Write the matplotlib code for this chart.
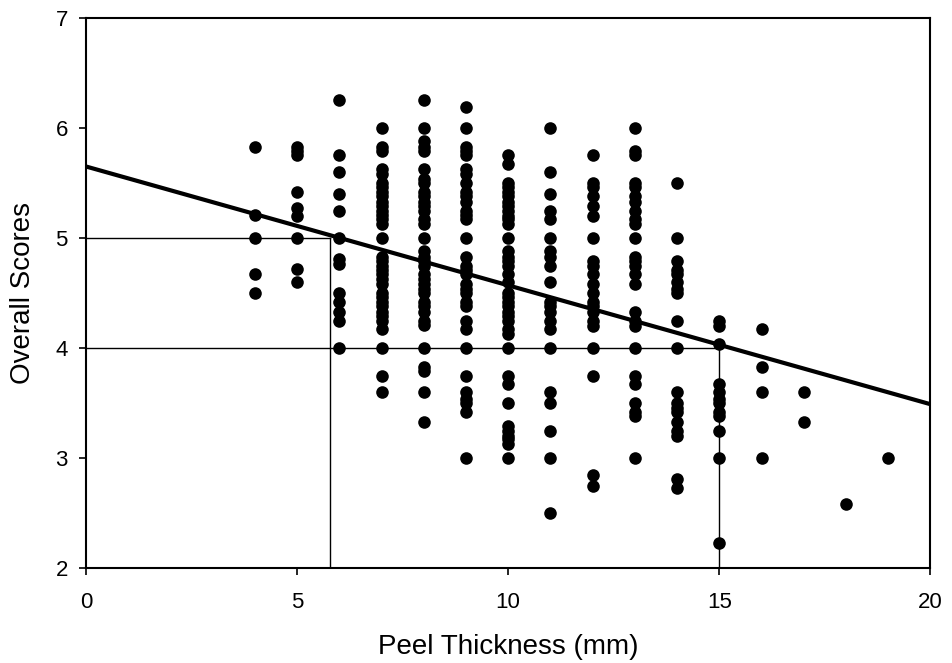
import matplotlib
matplotlib.use("Agg")
import matplotlib.pyplot as plt

plt.rcParams["font.family"] = ["Liberation Sans", "DejaVu Sans"]

# peel thickness (mm) and the overall scores read at each thickness
thickness = [4, 5, 6, 7, 8, 9, 10, 11, 12, 13, 14, 15, 16, 17, 18, 19]
scores = [
    [5.83, 5.21, 5.0, 4.67, 4.5],
    [5.83, 5.79, 5.75, 5.42, 5.27, 5.2, 5.0, 4.72, 4.6],
    [6.25, 5.75, 5.6, 5.4, 5.25, 5.0, 4.81, 4.76, 4.5, 4.42, 4.33, 4.25, 4.0],
    [6.0, 5.83, 5.79, 5.63, 5.58, 5.5, 5.46, 5.42, 5.38, 5.33, 5.29, 5.25, 5.21,
     5.17, 5.13, 5.0, 4.83, 4.79, 4.75, 4.71, 4.67, 4.63, 4.58, 4.5, 4.46, 4.42,
     4.38, 4.33, 4.29, 4.25, 4.17, 4.0, 3.75, 3.6],
    [6.25, 6.0, 5.88, 5.83, 5.79, 5.63, 5.54, 5.5, 5.42, 5.38, 5.33, 5.29, 5.25,
     5.17, 5.13, 5.0, 4.88, 4.83, 4.79, 4.75, 4.67, 4.63, 4.58, 4.54, 4.5, 4.42,
     4.38, 4.33, 4.25, 4.21, 4.0, 3.83, 3.79, 3.6, 3.33],
    [6.19, 6.0, 5.83, 5.79, 5.75, 5.63, 5.58, 5.5, 5.42, 5.38, 5.33, 5.25, 5.21,
     5.17, 5.0, 4.83, 4.75, 4.71, 4.67, 4.58, 4.54, 4.5, 4.42, 4.38, 4.25, 4.17,
     4.0, 3.75, 3.6, 3.54, 3.5, 3.42, 3.0],
    [5.75, 5.67, 5.5, 5.46, 5.42, 5.38, 5.33, 5.29, 5.25, 5.2, 5.17, 5.13, 5.0,
     4.88, 4.83, 4.79, 4.75, 4.67, 4.6, 4.5, 4.46, 4.42, 4.38, 4.33, 4.29, 4.25,
     4.17, 4.13, 4.0, 3.75, 3.67, 3.5, 3.29, 3.25, 3.2, 3.17, 3.13, 3.0],
    [6.0, 5.6, 5.4, 5.25, 5.17, 5.0, 4.88, 4.83, 4.75, 4.6, 4.42, 4.38, 4.33,
     4.25, 4.17, 4.0, 3.6, 3.5, 3.25, 3.0, 2.5],
    [5.75, 5.5, 5.46, 5.38, 5.29, 5.2, 5.0, 4.79, 4.75, 4.67, 4.58, 4.5, 4.42,
     4.38, 4.33, 4.25, 4.2, 4.0, 3.75, 2.85, 2.75],
    [6.0, 5.79, 5.75, 5.5, 5.46, 5.38, 5.33, 5.25, 5.17, 5.13, 5.0, 4.83, 4.79,
     4.75, 4.67, 4.58, 4.33, 4.25, 4.2, 4.0, 3.75, 3.67, 3.5, 3.42, 3.38, 3.0],
    [5.5, 5.0, 4.79, 4.71, 4.67, 4.6, 4.54, 4.5, 4.25, 4.0, 3.6, 3.5, 3.46, 3.42,
     3.33, 3.25, 3.2, 2.81, 2.73],
    [4.25, 4.2, 4.04, 3.67, 3.6, 3.54, 3.5, 3.42, 3.38, 3.25, 3.0, 2.23],
    [4.17, 3.83, 3.6, 3.0],
    [3.6, 3.33],
    [2.58],
    [3.0],
]

# fitted line end points and the two read-off guides
fit_x = [0, 20]
fit_y = [5.65, 3.49]
guide_x = [5.78, 15]
guide_y = [5.0, 4.0]

xs = []
ys = []
for t, col in zip(thickness, scores):
    for s in col:
        xs.append(t)
        ys.append(s)

fig = plt.figure(figsize=(9.52, 6.63), dpi=100)
ax = fig.add_axes([0.0903, 0.143, 0.887, 0.830])

for gx, gy in zip(guide_x, guide_y):
    ax.plot([0, gx], [gy, gy], color="black", lw=1.0, zorder=2)
    ax.plot([gx, gx], [2, gy], color="black", lw=1.0, zorder=2)

ax.scatter(xs, ys, s=82, color="black", zorder=3, linewidths=0)
ax.plot(fit_x, fit_y, color="black", lw=3.0, zorder=4, solid_capstyle="butt")

ax.set_xlim(0, 20)
ax.set_ylim(2, 7)
ax.set_xticks([0, 5, 10, 15, 20])
ax.set_yticks([2, 3, 4, 5, 6, 7])
ax.tick_params(direction="out", length=5, width=1.2, labelsize=16)
ax.tick_params(axis="x", pad=12)
ax.tick_params(axis="y", pad=8)
for sp in ax.spines.values():
    sp.set_linewidth(1.5)

ax.set_xlabel("Peel Thickness (mm)", fontsize=20, labelpad=15)
ax.set_ylabel("Overall Scores", fontsize=20, labelpad=14)

fig.savefig("out.png", dpi=100)
